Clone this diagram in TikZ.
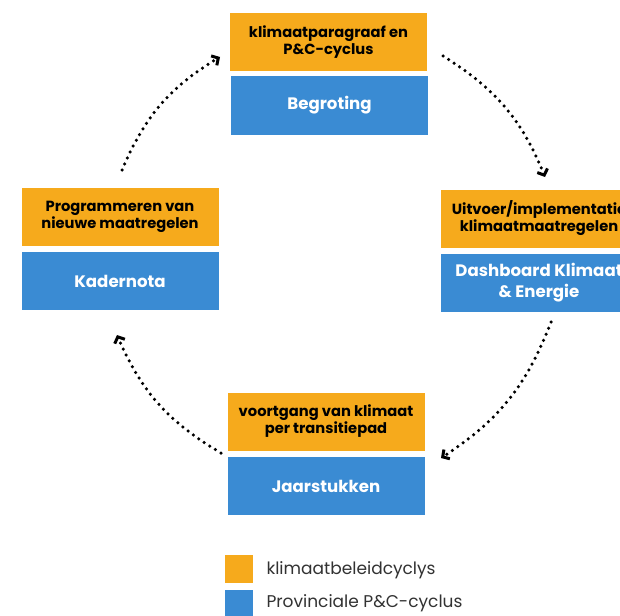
\documentclass[tikz,border=0pt]{standalone}
\usepackage{fontspec}
\setmainfont{Poppins}
\usetikzlibrary{arrows.meta}
\definecolor{korange}{RGB}{246,170,28}
\definecolor{kblue}{RGB}{58,139,211}
\definecolor{ltext}{RGB}{50,50,50}
\tikzset{
  obox/.style={fill=korange, draw=none, minimum width=197pt, minimum height=58pt, inner sep=0pt, align=center, font=\fontsize{14.7}{17}\selectfont\bfseries, text=black},
  bbox/.style={fill=kblue, draw=none, minimum width=197pt, minimum height=58pt, inner sep=0pt, align=center, font=\fontsize{16.6}{21}\selectfont\bfseries, text=white},
  cyc/.style={line width=3.5pt, line cap=round, dash pattern=on 0pt off 6.6pt, -{Straight Barb[length=5pt,width=11pt,line width=3pt]}},
  legsq/.style={minimum size=28pt, inner sep=0pt, draw=none},
  legtxt/.style={anchor=west, font=\fontsize{17}{20}\selectfont, text=ltext}
}
\begin{document}
\begin{tikzpicture}[x=1pt,y=-1pt]
\useasboundingbox (0,0) rectangle (620,615);
\clip (0,0) rectangle (620,615);
\fill[white] (0,0) rectangle (620,615);
% top
\node[obox] (topo) at (328.5,42) {klimaatparagraaf en\\P\&C-cyclus};
\node[bbox] (topb) at (329.5,105.5) {Begroting};
% right
\node[obox] (righto) at (539,218.5) {Uitvoer/implementatie\\klimaatmaatregelen};
\node[bbox] (rightb) at (539,283) {Dashboard Klimaat\\\& Energie};
% left
\node[obox] (lefto) at (120,217) {Programmeren van\\nieuwe maatregelen};
\node[bbox] (leftb) at (120,281) {Kadernota};
% bottom
\node[obox] (boto) at (326,421.5) {voortgang van klimaat\\per transitiepad};
\node[bbox] (botb) at (326,486) {Jaarstukken};
% arrow ends
\coordinate (a1s) at (122,170);
\coordinate (a1e) at (220,57);
\coordinate (a2s) at (443,56);
\coordinate (a2e) at (545,177);
\coordinate (a3s) at (551,322);
\coordinate (a3e) at (441,458);
\coordinate (a4s) at (221,453);
\coordinate (a4e) at (117,335);
\draw[cyc] (a1s) to[bend left=18] (a1e);
\draw[cyc] (a2s) to[bend left=18] (a2e);
\draw[cyc] (a3s) to[bend left=18] (a3e);
\draw[cyc] (a4s) to[bend left=18] (a4e);
% legend
\node[legsq, fill=korange] (lego) at (239,569) {};
\node[legsq, fill=kblue] (legb) at (239,604) {};
\node[legtxt] (legot) at (263,570) {klimaatbeleidcyclys};
\node[legtxt] (legbt) at (263,603) {Provinciale P\&C-cyclus};
\end{tikzpicture}
\end{document}
